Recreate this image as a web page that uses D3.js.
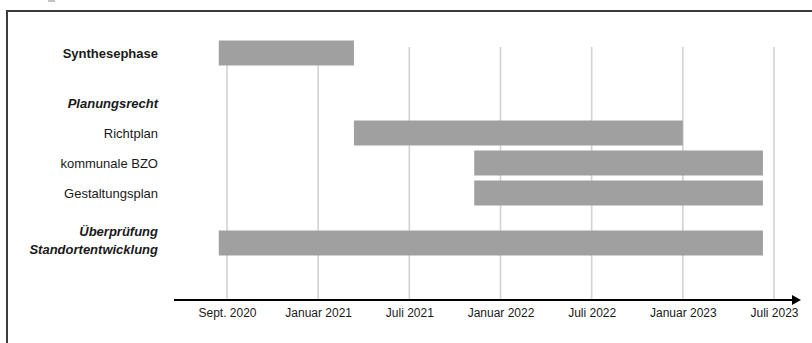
<!DOCTYPE html>
<html>
<head>
  <meta charset="utf-8">
  <title>Zeitplan</title>
  <script src="https://d3js.org/d3.v7.min.js"></script>
  <style>
    body { margin: 0; background: #fff; }
    svg text { font-family: "Liberation Sans", Arial, sans-serif; fill: #1a1a1a; }
  </style>
</head>
<body>
  <svg id="chart" width="812" height="343"></svg>
  <script>
    // ---- data ----
    var tasks = ["Synthesephase", "Planungsrecht", "Richtplan", "kommunale BZO", "Gestaltungsplan", "Überprüfung\nStandortentwicklung"];
    var kinds = ["phase", "section", "item", "item", "item", "section"]; // phase = bold, section = bold italic
    var groups = [0, 1, 1, 1, 1, 2];
    var starts = ["2020-08-21", null, "2021-03-13", "2021-11-09", "2021-11-09", "2020-08-21"];
    var ends   = ["2021-03-13", null, "2023-01-01", "2023-06-09", "2023-06-09", "2023-06-09"];

    var tickLabels = ["Sept. 2020", "Januar 2021", "Juli 2021", "Januar 2022", "Juli 2022", "Januar 2023", "Juli 2023"];
    var tickDates  = ["2020-09-01", "2021-01-01", "2021-07-01", "2022-01-01", "2022-07-01", "2023-01-01", "2023-07-01"];

    // ---- layout ----
    var svg = d3.select("#chart");
    var parse = d3.timeParse("%Y-%m-%d");
    var axisY = 300, gridTop = 47;
    var firstRow = 53, rowStep = 30, groupGap = 20, barH = 25;

    // ticks are spaced evenly in the original, so the time scale is piecewise between them
    var xPoint = d3.scalePoint().domain(tickLabels).range([227, 774]);
    var x = d3.scaleTime()
        .domain(tickDates.map(parse))
        .range(tickLabels.map(function(t) { return xPoint(t); }));

    var yIdx = d3.scaleLinear().domain([0, 1]).range([firstRow, firstRow + rowStep]);
    var rowY = function(i) { return yIdx(i) + groups[i] * groupGap; };

    // frame (runs off the right/bottom like the original)
    svg.append("rect")
        .attr("x", 7).attr("y", 11)
        .attr("width", 830).attr("height", 350)
        .attr("fill", "none")
        .attr("stroke", "#3c3c3c")
        .attr("stroke-width", 2);
    svg.append("rect").attr("x", 48).attr("y", 0).attr("width", 7).attr("height", 2).attr("fill", "#c4c4c4");

    // gridlines
    svg.append("g").selectAll("line")
      .data(tickLabels)
      .enter().append("line")
        .attr("x1", function(d) { return xPoint(d); })
        .attr("x2", function(d) { return xPoint(d); })
        .attr("y1", gridTop)
        .attr("y2", axisY)
        .attr("stroke", "#d2d2d2")
        .attr("stroke-width", 1.6);

    // bars
    var rows = tasks.map(function(t, i) { return {i: i, name: t, kind: kinds[i], s: starts[i], e: ends[i]}; });
    svg.append("g").selectAll("rect")
      .data(rows.filter(function(d) { return d.s; }))
      .enter().append("rect")
        .attr("x", function(d) { return x(parse(d.s)); })
        .attr("width", function(d) { return x(parse(d.e)) - x(parse(d.s)); })
        .attr("y", function(d) { return rowY(d.i) - barH / 2; })
        .attr("height", barH)
        .attr("fill", "#a0a0a0");

    // row labels
    var lab = svg.append("g").selectAll("text")
      .data(rows)
      .enter().append("text")
        .attr("text-anchor", "end")
        .attr("font-size", 13)
        .attr("font-weight", function(d) { return d.kind == "item" ? "normal" : "bold"; })
        .attr("font-style", function(d) { return d.kind == "section" ? "italic" : "normal"; });
    lab.each(function(d) {
      var lines = d.name.split("\n");
      var t = d3.select(this);
      lines.forEach(function(line, k) {
        var off = (k - (lines.length - 1) / 2) * 18 - (lines.length > 1 ? 3 : 0);
        t.append("tspan")
          .attr("x", 158)
          .attr("y", rowY(d.i) + off)
          .attr("dy", "0.35em")
          .text(line);
      });
    });

    // axis
    var ax = svg.append("g")
        .attr("transform", "translate(0," + axisY + ")")
        .call(d3.axisBottom(xPoint).tickSize(0).tickPadding(8));
    ax.select(".domain").remove();
    ax.selectAll("text")
        .attr("font-size", 12)
        .attr("font-family", "'Liberation Sans', Arial, sans-serif")
        .attr("fill", "#1a1a1a");

    svg.append("line")
        .attr("x1", 174).attr("x2", 794)
        .attr("y1", axisY).attr("y2", axisY)
        .attr("stroke", "#000")
        .attr("stroke-width", 2);
    svg.append("path")
        .attr("d", "M792," + (axisY - 5) + "L801," + axisY + "L792," + (axisY + 5) + "Z")
        .attr("fill", "#000");
  </script>
</body>
</html>
